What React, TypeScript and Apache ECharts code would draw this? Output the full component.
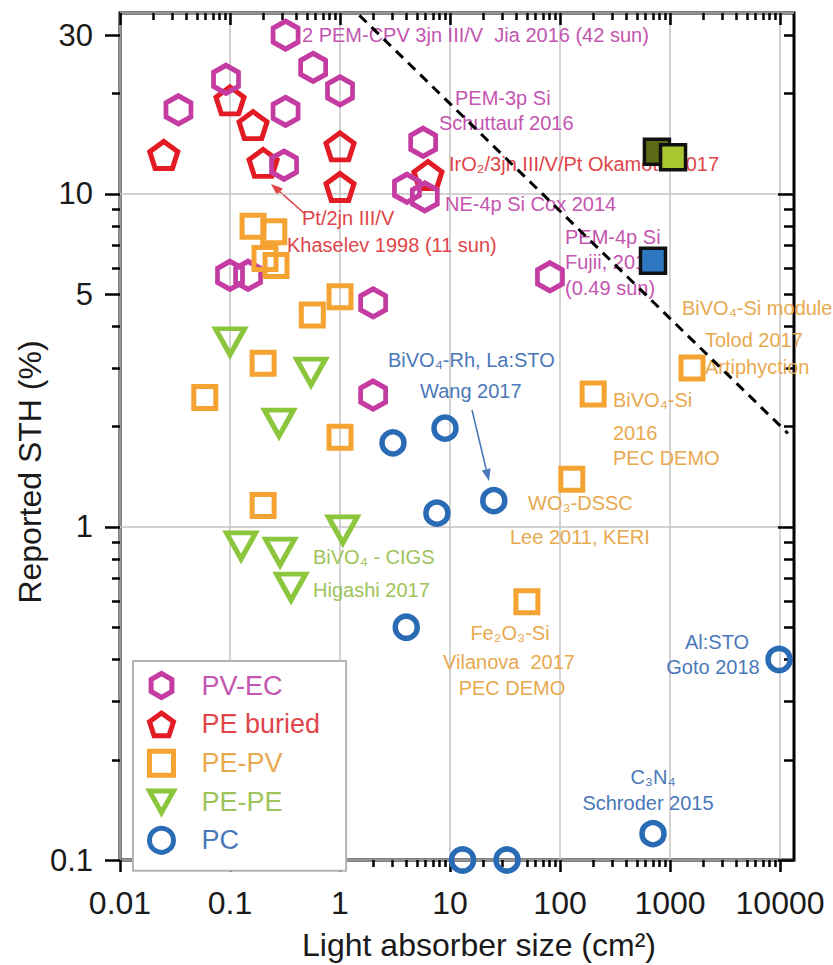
import React, { useEffect, useRef } from "react";
import * as echarts from "echarts";

// ---------- data ----------
const pvecX = [0.32, 0.57, 1.0, 0.092, 0.034, 0.32, 0.31, 5.7, 4.06, 5.9, 0.1, 0.146, 2.0, 81, 2.0];
const pvecY = [30.0, 24.0, 20.4, 22.1, 17.9, 17.7, 12.2, 14.3, 10.4, 9.8, 5.7, 5.7, 4.71, 5.64, 2.49];

const peBuriedX = [0.025, 0.1, 0.162, 0.2, 1.0, 1.0, 6.3];
const peBuriedY = [13.1, 19.1, 16.1, 12.4, 13.9, 10.5, 11.4];

const pepvX = [0.162, 0.25, 0.208, 0.262, 1.0, 0.56, 0.2, 0.059, 1.0, 0.2, 200, 1585, 128, 50];
const pepvY = [8.0, 7.7, 6.4, 6.1, 4.91, 4.33, 3.1, 2.45, 1.86, 1.16, 2.51, 3.0, 1.39, 0.596];

const pepeX = [0.1, 0.545, 0.279, 1.06, 0.126, 0.285, 0.359];
const pepeY = [3.6, 2.92, 2.05, 0.98, 0.877, 0.84, 0.66];

const pcX = [3.03, 9.0, 7.6, 25, 4.0, 9800, 700, 13, 33];
const pcY = [1.79, 1.98, 1.10, 1.20, 0.50, 0.40, 0.12, 0.1, 0.1];

const highlightX = [760, 1065, 700];
const highlightY = [13.4, 12.9, 6.3];

const limitLineX = [1.5, 11800];
const limitLineY = [34.4, 1.91];

const xTickValues = [0.01, 0.1, 1, 10, 100, 1000, 10000];
const xTickLabels = ["0.01", "0.1", "1", "10", "100", "1000", "10000"];
const yTickValues = [0.1, 1, 5, 10, 30];
const yTickLabels = ["0.1", "1", "5", "10", "30"];
const yDecades = [0.1, 1, 10];

const seriesNames = ["PV-EC", "PE buried", "PE-PV", "PE-PE", "PC"];

// ---------- styles ----------
const FONT = "'Liberation Sans', Arial, Helvetica, sans-serif";
const C = {
  pvec: "#c43ca2",
  red: "#e31b25",
  orange: "#f4a232",
  green: "#8cc63c",
  blue: "#2a6bb5",
};
const T = {
  pvec: "#c455b0",
  red: "#e0454a",
  orange: "#e8a94f",
  green: "#9ec35a",
  blue: "#4b78b8",
};
const highlightColors = ["#5e6b16", "#a9c52f", "#2e78c2"];

const HEX = "path://M50,0 L93.3,25 L93.3,75 L50,100 L6.7,75 L6.7,25 Z";
const PENT = "path://M50,0 L97.6,34.5 L79.4,90.5 L20.6,90.5 L2.4,34.5 Z";
const TRI_DOWN = "path://M0,0 L100,0 L50,90 Z";

const X_MIN = -2;
const X_MAX = 4.127;
const Y_MIN = -1;
const Y_MAX = 1.5435;

const L = Math.log10;
const pts = (xs: number[], ys: number[]) => xs.map((x, i) => [L(x), L(ys[i])]);

const minorLogs = (fromExp: number, toExp: number, lo: number, hi: number) => {
  const out: number[] = [];
  for (let n = fromExp; n <= toExp; n++) {
    for (let k = 2; k <= 9; k++) {
      const v = L(k * Math.pow(10, n));
      if (v > lo && v < hi) out.push(v);
    }
  }
  return out;
};

function arrowEls(x1: number, y1: number, x2: number, y2: number, color: string) {
  const a = Math.atan2(y2 - y1, x2 - x1);
  const hl = 12;
  const hw = 4.5;
  const bx = x2 - hl * Math.cos(a);
  const by = y2 - hl * Math.sin(a);
  const px = -Math.sin(a) * hw;
  const py = Math.cos(a) * hw;
  return [
    { type: "line", shape: { x1, y1, x2: bx, y2: by }, style: { stroke: color, lineWidth: 1.6 } },
    {
      type: "polygon",
      shape: { points: [[x2, y2], [bx + px, by + py], [bx - px, by - py]] },
      style: { fill: color },
    },
  ];
}

type Ann = [string, number, number, string, ("left" | "center")?];
const annotations: Ann[] = [
  ["2 PEM-CPV 3jn III/V  Jia 2016 (42 sun)", 302, 35, T.pvec],
  ["PEM-3p Si", 455, 98, T.pvec],
  ["Schuttauf 2016", 439, 123, T.pvec],
  ["NE-4p Si Cox 2014", 445, 204, T.pvec],
  ["PEM-4p Si", 565, 237, T.pvec],
  ["Fujii, 2016", 565, 262, T.pvec],
  ["(0.49 sun)", 565, 288, T.pvec],
  ["IrO\u2082/3jn III/V/Pt Okamoto 2017", 449, 164, T.red],
  ["Pt/2jn III/V", 302, 218, T.red],
  ["Khaselev 1998 (11 sun)", 287, 245, T.red],
  ["BiVO\u2084-Si module", 682, 308, T.orange],
  ["Tolod 2017", 705, 340, T.orange],
  ["Artiphyction", 705, 367, T.orange],
  ["BiVO\u2084-Si", 613, 400, T.orange],
  ["2016", 613, 433, T.orange],
  ["PEC DEMO", 613, 458, T.orange],
  ["WO\u2083-DSSC", 528, 503, T.orange],
  ["Lee 2011, KERI", 510, 537, T.orange],
  ["Fe\u2082O\u2083-Si", 510, 633, T.orange, "center"],
  ["Vilanova  2017", 509, 662, T.orange, "center"],
  ["PEC DEMO", 512, 688, T.orange, "center"],
  ["BiVO\u2084-Rh, La:STO", 388, 360, T.blue],
  ["Wang 2017", 420, 391, T.blue],
  ["Al:STO", 717, 642, T.blue, "center"],
  ["Goto 2018", 713, 667, T.blue, "center"],
  ["C\u2083N\u2084", 653, 777, T.blue, "center"],
  ["Schroder 2015", 648, 803, T.blue, "center"],
  ["BiVO\u2084 - CIGS", 313, 557, T.green],
  ["Higashi 2017", 313, 590, T.green],
];

export default function App() {
  const ref = useRef<HTMLDivElement>(null);

  useEffect(() => {
    if (!ref.current) return;
    const chart = echarts.init(ref.current, undefined, { renderer: "svg" });

    const xMajor = xTickValues.map(L);
    const xMinor = minorLogs(-2, 4, X_MIN, X_MAX);
    const yLabeled = yTickValues.map(L);
    const yMinorAll = minorLogs(-1, 1, Y_MIN, Y_MAX);
    const yMinorLeft = yMinorAll.filter((v) => !yLabeled.some((t) => Math.abs(t - v) < 1e-9));
    const yDec = yDecades.map(L);

    const fmt = (vals: number[], labels: string[]) => (v: number) => {
      const i = vals.findIndex((t) => Math.abs(L(t) - v) < 1e-6);
      return i >= 0 ? labels[i] : "";
    };

    const tickLine = { color: "#000", width: 2.5 };
    const xBase = {
      type: "value",
      min: X_MIN,
      max: X_MAX,
      axisLine: { show: false, onZero: false },
      splitLine: { show: false },
      axisLabel: { show: false },
      axisTick: { show: false },
    };
    const yBase = {
      type: "value",
      min: Y_MIN,
      max: Y_MAX,
      axisLine: { show: false, onZero: false },
      splitLine: { show: false },
      axisLabel: { show: false },
      axisTick: { show: false },
    };

    const hollow = (color: string, bw = 5) => ({
      color: "rgba(255,255,255,0)",
      borderColor: color,
      borderWidth: bw,
      opacity: 1,
    });

    const graphics: any[] = [];
    annotations.forEach(([text, x, y, color, align]) => {
      graphics.push({
        type: "text",
        x,
        y,
        z: 1,
        silent: true,
        style: {
          text,
          fill: color,
          fontSize: 20,
          fontFamily: FONT,
          align: align || "left",
          verticalAlign: "middle",
        },
      });
    });
    graphics.push(...arrowEls(305, 214, 271, 184, T.red));
    graphics.push(...arrowEls(472, 410, 489, 481, T.blue));
    graphics.push({
      type: "text",
      x: 30,
      y: 472,
      rotation: Math.PI / 2,
      silent: true,
      style: {
        text: "Reported STH (%)",
        fill: "#1a1a1a",
        fontSize: 32,
        fontFamily: FONT,
        align: "center",
        verticalAlign: "middle",
      },
    });
    graphics.push({
      type: "text",
      x: 479,
      y: 945,
      silent: true,
      style: {
        text: "Light absorber size (cm\u00B2)",
        fill: "#1a1a1a",
        fontSize: 32,
        fontFamily: FONT,
        align: "center",
        verticalAlign: "middle",
      },
    });

    const legendIcons = [HEX, PENT, "rect", TRI_DOWN, "circle"];
    const legendColors = [C.pvec, C.red, C.orange, C.green, C.blue];
    const legendText = [T.pvec, T.red, T.orange, T.green, T.blue];

    chart.setOption({
      animation: false,
      backgroundColor: "#fff",
      textStyle: { fontFamily: FONT },
      grid: {
        left: 120,
        right: 39,
        top: 13,
        bottom: 105,
        show: true,
        borderColor: "#000",
        borderWidth: 3,
        backgroundColor: "rgba(0,0,0,0)",
      },
      legend: {
        orient: "vertical",
        left: 133,
        top: 661,
        itemWidth: 24,
        itemHeight: 24,
        itemGap: 10.5,
        padding: [10, 26, 16, 14],
        borderColor: "#b5b5b5",
        borderWidth: 2,
        backgroundColor: "#fff",
        selectedMode: false,
        textStyle: { fontSize: 27, fontFamily: FONT, padding: [0, 0, 0, 23] },
        data: seriesNames.map((name, i) => ({
          name,
          icon: legendIcons[i],
          itemStyle: {
            color: "rgba(255,255,255,0)",
            borderColor: legendColors[i],
            borderWidth: 5,
            opacity: 1,
          },
          textStyle: { color: legendText[i] },
        })),
      },
      xAxis: [
        {
          ...xBase,
          position: "bottom",
          interval: 1,
          splitLine: { show: true, lineStyle: { color: "#c4c4c4", width: 1.5 } },
          axisTick: { show: true, customValues: xMajor, length: 12, lineStyle: tickLine },
          axisLabel: {
            show: true,
            customValues: xMajor,
            formatter: fmt(xTickValues, xTickLabels),
            fontSize: 32,
            margin: 27,
            color: "#1a1a1a",
            fontFamily: FONT,
          },
        },
        {
          ...xBase,
          position: "bottom",
          axisTick: { show: true, customValues: xMinor, length: 7, lineStyle: tickLine },
        },
        {
          ...xBase,
          position: "top",
          axisTick: { show: true, inside: true, customValues: xMajor, length: 12, lineStyle: tickLine },
        },
        {
          ...xBase,
          position: "top",
          axisTick: { show: true, inside: true, customValues: xMinor, length: 7, lineStyle: tickLine },
        },
      ],
      yAxis: [
        {
          ...yBase,
          position: "left",
          interval: 1,
          splitLine: { show: true, lineStyle: { color: "#c4c4c4", width: 1.5 } },
        },
        {
          ...yBase,
          position: "left",
          axisTick: { show: true, customValues: yLabeled, length: 15, lineStyle: tickLine },
          axisLabel: {
            show: true,
            customValues: yLabeled,
            formatter: fmt(yTickValues, yTickLabels),
            fontSize: 31,
            margin: 27,
            color: "#1a1a1a",
            fontFamily: FONT,
          },
        },
        {
          ...yBase,
          position: "left",
          axisTick: { show: true, customValues: yMinorLeft, length: 8, lineStyle: tickLine },
        },
        {
          ...yBase,
          position: "right",
          axisTick: { show: true, inside: true, customValues: yDec, length: 16, lineStyle: tickLine },
        },
        {
          ...yBase,
          position: "right",
          axisTick: { show: true, inside: true, customValues: yMinorAll, length: 10, lineStyle: tickLine },
        },
      ],
      graphic: graphics,
      series: [
        {
          type: "scatter",
          name: "PE buried",
          data: pts(peBuriedX, peBuriedY),
          symbol: PENT,
          symbolSize: [28, 27],
          itemStyle: hollow(C.red),
          z: 3,
        },
        {
          type: "scatter",
          name: "PV-EC",
          data: pts(pvecX, pvecY),
          symbol: HEX,
          symbolSize: [25, 28],
          itemStyle: hollow(C.pvec),
          z: 3,
        },
        {
          type: "scatter",
          name: "PE-PV",
          data: pts(pepvX, pepvY),
          symbol: "rect",
          symbolSize: 22,
          itemStyle: hollow(C.orange, 5),
          z: 3,
        },
        {
          type: "scatter",
          name: "PE-PE",
          data: pts(pepeX, pepeY),
          symbol: TRI_DOWN,
          symbolSize: [29, 26],
          itemStyle: hollow(C.green),
          z: 3,
        },
        {
          type: "scatter",
          name: "PC",
          data: pts(pcX, pcY),
          symbol: "circle",
          symbolSize: 22,
          itemStyle: hollow(C.blue, 5.5),
          z: 3,
        },
        {
          type: "scatter",
          name: "highlight",
          data: highlightX.map((x, i) => ({
            value: [L(x), L(highlightY[i])],
            itemStyle: { color: highlightColors[i] },
          })),
          symbol: "rect",
          symbolSize: 25,
          itemStyle: { borderColor: "#111", borderWidth: 3.5, opacity: 1 },
          z: 5,
        },
        {
          type: "line",
          name: "limit",
          data: pts(limitLineX, limitLineY),
          symbol: "none",
          silent: true,
          lineStyle: { color: "#000", width: 3, type: [10, 7] },
          z: 4,
        },
      ],
    });

    return () => chart.dispose();
  }, []);

  return (
    <div
      ref={ref}
      style={{ position: "absolute", left: 0, top: 0, width: 833, height: 965, background: "#fff" }}
    />
  );
}
